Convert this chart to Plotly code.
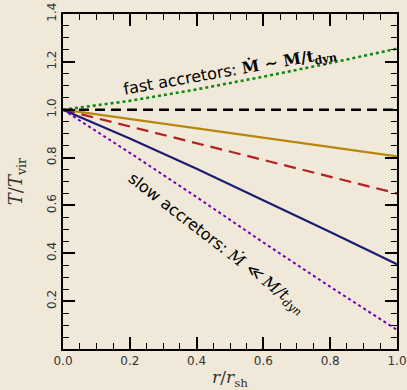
import plotly.graph_objects as go

r = [0.0, 0.2, 0.4, 0.6, 0.8, 1.0]
T_fast = [1.0, 1.037, 1.085, 1.138, 1.195, 1.255]
T_iso = [1.0, 1.0, 1.0, 1.0, 1.0, 1.0]
T_orange = [1.0, 0.961, 0.922, 0.883, 0.844, 0.805]
T_red = [1.0, 0.93, 0.862, 0.792, 0.72, 0.65]
T_navy = [1.0, 0.88, 0.753, 0.622, 0.489, 0.354]
T_slow = [1.0, 0.82, 0.635, 0.445, 0.26, 0.08]

bg = "#f0e8d8"
fig = go.Figure()
series = [
    (T_fast, "#118811", "dot", 2.6),
    (T_iso, "black", "10px,6px", 2.5),
    (T_orange, "#b8860b", "solid", 2.2),
    (T_red, "#b22222", "12px,7px", 2.2),
    (T_navy, "#1c1c72", "solid", 2.2),
    (T_slow, "#6f00b8", "dot", 2.0),
]
for ys, c, d, w in series:
    fig.add_trace(go.Scatter(x=r, y=ys, mode="lines", line=dict(color=c, dash=d, width=w),
                             showlegend=False, hoverinfo="skip"))

sans = "DejaVu Sans"
serif = "DejaVu Serif"
fig.add_annotation(
    x=0.5, y=1.16, xref="x", yref="y", showarrow=False, textangle=-10,
    text=("fast accretors: "
          "<span style='font-family:DejaVu Serif'><b>Ṁ ~ M/t<sub>dyn</sub></b></span>"),
    font=dict(family=sans, size=16, color="black"))
fig.add_annotation(
    x=0.46, y=0.445, xref="x", yref="y", showarrow=False, textangle=37.6,
    text=("slow accretors: "
          "<span style='font-family:DejaVu Serif'><i>Ṁ ≪ M/t<sub>dyn</sub></i></span>"),
    font=dict(family=sans, size=16, color="black"))

axis_common = dict(showgrid=False, zeroline=False, showline=True, linecolor="black", linewidth=2,
                   mirror="ticks", ticks="inside", ticklen=12, tickwidth=1.5, tickcolor="black",
                   automargin=False,
                   tickfont=dict(family=sans, size=12, color="#333333"))
fig.update_xaxes(range=[0, 1.0], dtick=0.2, tickformat=".1f",
                 minor=dict(dtick=0.05, ticks="inside", ticklen=6, tickcolor="black", tickwidth=1.2),
                 title=dict(text="<i>r</i>/<i>r</i><sub>sh</sub>", font=dict(family=serif, size=17, color="#333333"),
                            standoff=10),
                 **axis_common)
fig.update_yaxes(range=[0, 1.4], tickvals=[0.2, 0.4, 0.6, 0.8, 1.0, 1.2, 1.4], tickformat=".1f",
                 tickangle=-90,
                 minor=dict(dtick=0.05, ticks="inside", ticklen=6, tickcolor="black", tickwidth=1.2),
                 title=dict(text="<i>T</i>/<i>T</i><sub>vir</sub>", font=dict(family=serif, size=18, color="#333333"),
                            standoff=18),
                 **axis_common)
fig.update_layout(width=407, height=390, margin=dict(l=63, r=10, t=14, b=41),
                  paper_bgcolor=bg, plot_bgcolor=bg)
fig.write_html("out.html")
